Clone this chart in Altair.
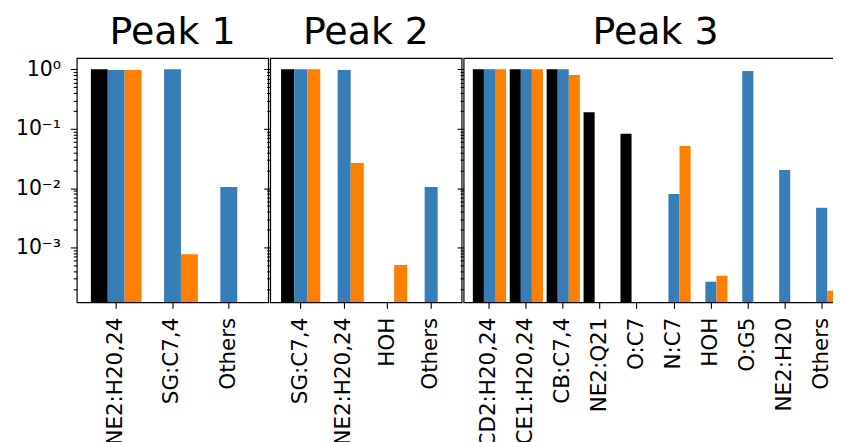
import altair as alt
import pandas as pd

series = ["Series A", "Series B", "Series C"]
colors = ["#000000", "#377eb8", "#ff7f00"]

titles = ["Peak 1", "Peak 2", "Peak 3"]

peak1_cats = ["NE2:H20,24", "SG:C7,4", "Others"]
peak1_a = [1.0, None, None]
peak1_b = [0.973, 1.0, 0.0105]
peak1_c = [0.97, 7.7e-4, None]

peak2_cats = ["SG:C7,4", "NE2:H20,24", "HOH", "Others"]
peak2_a = [1.0, None, None, None]
peak2_b = [1.0, 0.97, None, 0.0105]
peak2_c = [1.0, 0.0266, 5.1e-4, None]

peak3_cats = ["CD2:H20,24", "CE1:H20,24", "CB:C7,4", "NE2:Q21", "O:C7",
              "N:C7", "HOH", "O:G5", "NE2:H20", "Others"]
peak3_a = [1.0, 1.0, 1.0, 0.19, 0.082, None, None, None, None, None]
peak3_b = [1.0, 1.0, 1.0, None, None, 0.0080, 2.66e-4, 0.936, 0.0203, 0.00467]
peak3_c = [1.0, 1.0, 0.80, None, None, 0.0514, 3.36e-4, None, None, 1.88e-4]

y_min, y_max = 1.2e-4, 1.55
H = 245
FONT = "DejaVu Sans"

tick_vals = []
for e in range(-4, 1):
    for m in range(1, 10):
        v = m * 10.0 ** e
        if y_min <= v <= y_max:
            tick_vals.append(v)

L = "log(datum.value)/LN10"
major_test = f"abs({L} - round({L})) < 0.01"
label_expr = (
    f"abs({L} - round({L})) > 0.01 ? '' : "
    f"(round({L}) == 0 ? '10⁰' : round({L}) == -1 ? '10⁻¹' : "
    f"round({L}) == -2 ? '10⁻²' : round({L}) == -3 ? '10⁻³' : '')"
)


def make_panel(title, cats, a, b, c, width, show_labels):
    rows = []
    for s, vals in zip(series, [a, b, c]):
        for cat, v in zip(cats, vals):
            if v is not None:
                rows.append({"cat": cat, "series": s, "val": v})
    df = pd.DataFrame(rows)
    yaxis = alt.Axis(
        values=tick_vals,
        labelExpr=label_expr,
        labels=show_labels,
        tickSize={"condition": {"test": major_test, "value": 6.5}, "value": 3.5},
        tickWidth=1.1,
        tickColor="black",
        labelFontSize=20.5,
        labelFont=FONT,
        labelColor="black",
        labelPadding=10,
        labelOverlap=False,
        labelFlush=False,
        domain=False,
        grid=False,
        title=None,
    )
    xaxis = alt.Axis(
        labelAngle=-90,
        labelAlign="right",
        labelBaseline="middle",
        tickSize=6,
        tickWidth=1.1,
        tickColor="black",
        labelPadding=9,
        labelFontSize=21.5,
        labelFont=FONT,
        labelColor="black",
        domain=False,
        grid=False,
        title=None,
    )
    return alt.Chart(df).mark_bar(clip=True).encode(
        x=alt.X("cat:N", sort=cats,
                scale=alt.Scale(domain=cats, paddingInner=0, paddingOuter=0.2),
                axis=xaxis),
        xOffset=alt.XOffset("series:N",
                            scale=alt.Scale(domain=series, paddingInner=0,
                                            paddingOuter=1 / 6)),
        y=alt.Y("val:Q",
                scale=alt.Scale(type="log", domain=[y_min, y_max]),
                axis=yaxis, stack=False),
        y2=alt.datum(y_min),
        color=alt.Color("series:N", scale=alt.Scale(domain=series, range=colors),
                        legend=None),
    ).properties(
        width=width,
        height=H,
        title=alt.TitleParams(title, fontSize=38, font=FONT, fontWeight="normal",
                              color="black", anchor="middle", offset=6.5),
    )


p1 = make_panel(titles[0], peak1_cats, peak1_a, peak1_b, peak1_c, 192, True)
p2 = make_panel(titles[1], peak2_cats, peak2_a, peak2_b, peak2_c, 192, False)
p3 = make_panel(titles[2], peak3_cats, peak3_a, peak3_b, peak3_c, 385, False)

chart = alt.hconcat(p1, p2, p3, spacing=2, bounds="flush").resolve_scale(
    x="independent", xOffset="independent", y="shared"
).configure_view(
    stroke="black", strokeWidth=1.2
).properties(
    padding={"left": 6, "top": 3.5, "right": -15.5, "bottom": 0}
)

chart.save("out.html", embed_options={"renderer": "svg", "actions": False})
